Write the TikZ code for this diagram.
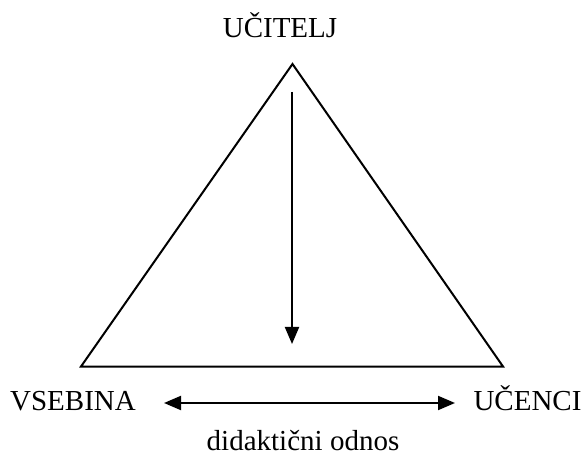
\documentclass[tikz,border=0pt]{standalone}
\usepackage{fontspec}
\setmainfont{Liberation Serif}
\usetikzlibrary{arrows.meta}
\begin{document}
\begin{tikzpicture}[x=1pt,y=1pt,
  lbl/.style={inner sep=0pt, anchor=base, font=\fontsize{29}{35}\selectfont},
  edge/.style={line width=2pt, line join=miter},
  arr/.style={line width=2pt, -{Triangle[length=17pt,width=14pt]}},
  darr/.style={line width=2pt, {Triangle[length=17pt,width=14pt]}-{Triangle[length=17pt,width=14pt]}}]
\useasboundingbox (0,0) rectangle (586,458);
\coordinate (apex) at (292.5,394);
\coordinate (bl) at (81,91.5);
\coordinate (br) at (503,91.5);
\draw[edge] (apex) -- (bl) -- (br) -- cycle;
\coordinate (vtop) at (292,366);
\coordinate (vbot) at (292,114);
\draw[arr] (vtop) -- (vbot);
\coordinate (hl) at (164,55);
\coordinate (hr) at (455,55);
\draw[darr] (hl) -- (hr);
\node[lbl] (ucitelj) at (280,420) {UČITELJ};
\node[lbl] (vsebina) at (73,48) {VSEBINA};
\node[lbl] (ucenci) at (527.5,48) {UČENCI};
\node[lbl] (odnos) at (303,8) {didaktični odnos};
\end{tikzpicture}
\end{document}
